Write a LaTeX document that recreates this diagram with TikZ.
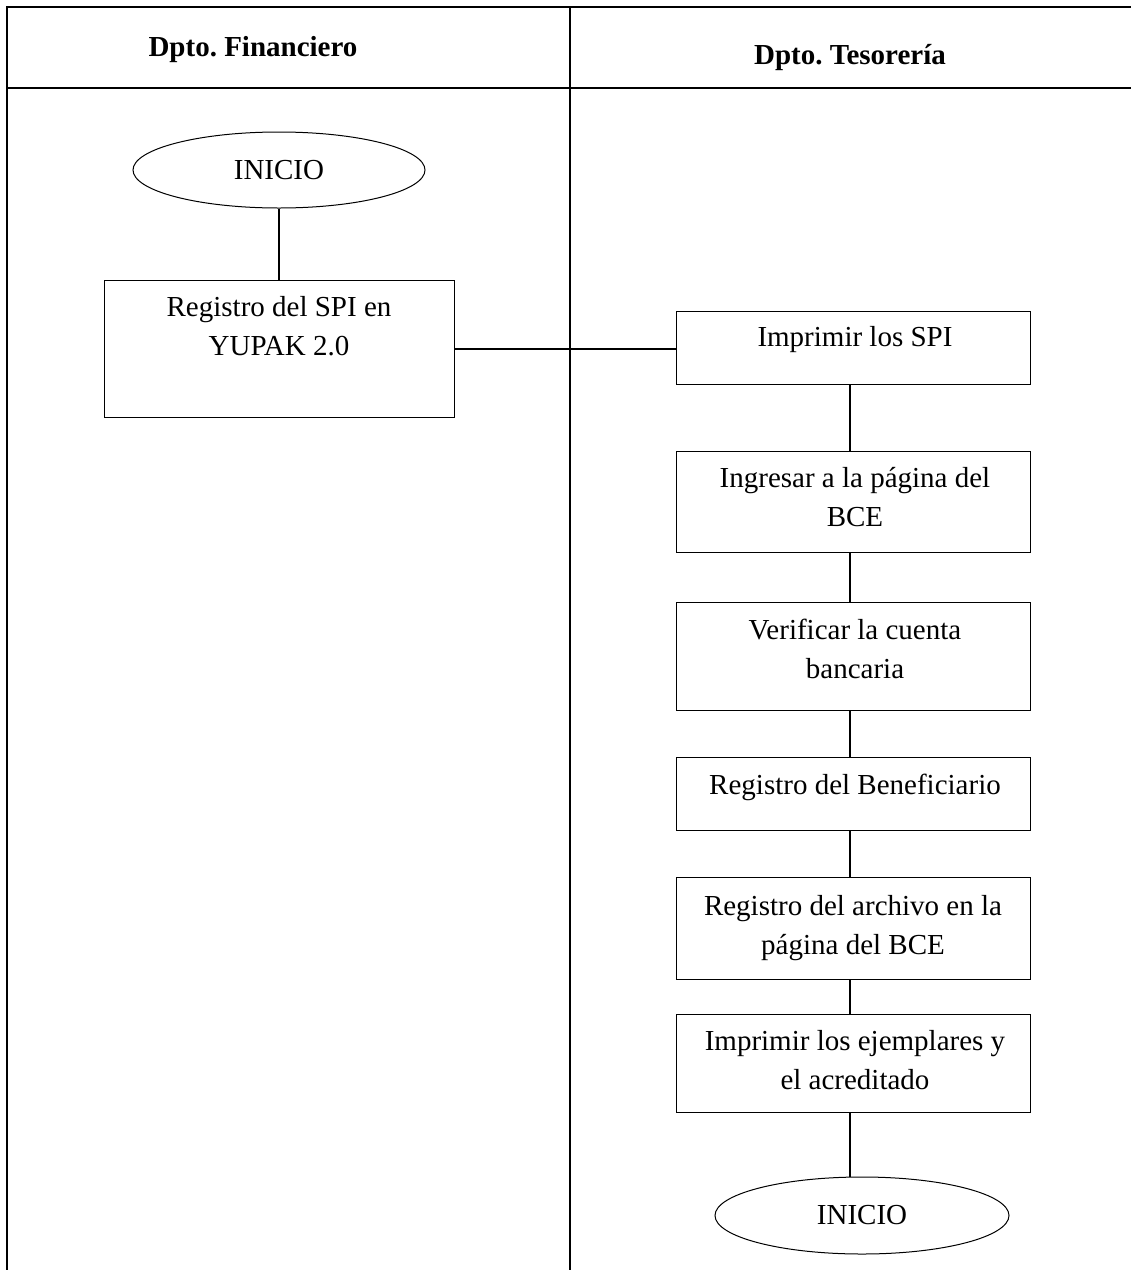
\documentclass[tikz,border=0pt]{standalone}
\usepackage{fontspec}
\setmainfont{Liberation Serif}
\usetikzlibrary{shapes.geometric}
\frenchspacing
\begin{document}
\begin{tikzpicture}[x=0.5pt,y=-0.5pt,
  tbl/.style={line width=1pt},
  conn/.style={line width=1pt},
  boxnode/.style={draw,line width=0.5pt,rectangle,inner sep=0pt},
  txt/.style={align=center,font=\fontsize{14.5}{19.5}\selectfont,inner sep=0pt},
  hdr/.style={font=\fontsize{14.5}{17}\selectfont\bfseries,inner sep=0pt},
  term/.style={draw,ellipse,line width=0.5pt,inner sep=0pt,font=\fontsize{14.5}{17}\selectfont}]
\useasboundingbox (0,0) rectangle (1131,1270);
% table
\draw[tbl] (7,1270) -- (7,7) -- (1131,7);
\draw[tbl] (7,88) -- (1131,88);
\draw[tbl] (570,7) -- (570,1270);
% headers
\node[hdr] (h1) at (253,50) {Dpto. Financiero};
\node[hdr] (h2) at (850,58) {Dpto. Tesorería};
% left column
\node[term,minimum width=146pt,minimum height=38pt] (e1) at (279,170) {INICIO};
\node[boxnode,minimum width=175pt,minimum height=68.5pt] (b1) at (279,348.5) {};
\node[txt] (t1) at (279,326) {Registro del SPI en\\YUPAK 2.0};
% right column
\node[boxnode,minimum width=177pt,minimum height=36.5pt] (b2) at (853,347.5) {};
\node[txt] (t2) at (855,340) {Imprimir los SPI};
\node[boxnode,minimum width=177pt,minimum height=50.5pt] (b3) at (853,501.5) {};
\node[txt] (t3) at (855,497) {Ingresar a la página del\\BCE};
\node[boxnode,minimum width=177pt,minimum height=54pt] (b4) at (853,656) {};
\node[txt] (t4) at (855,649) {Verificar la cuenta\\bancaria};
\node[boxnode,minimum width=177pt,minimum height=36.5pt] (b5) at (853,793.5) {};
\node[txt] (t5) at (855,787) {Registro del Beneficiario};
\node[boxnode,minimum width=177pt,minimum height=51pt] (b6) at (853,928) {};
\node[txt] (t6) at (853,928) {Registro del archivo en la\\página del BCE};
\node[boxnode,minimum width=177pt,minimum height=49pt] (b7) at (853,1063) {};
\node[txt] (t7) at (855,1060) {Imprimir los ejemplares y\\el acreditado};
\node[term,minimum width=147pt,minimum height=38.5pt] (e2) at (862,1215.5) {INICIO};
% connectors
\draw[conn] (e1.south) -- (b1.north);
\draw[conn] (b1.east) -- (b1.east -| b2.west);
\draw[conn] ([xshift=-1.5pt]b2.south) -- ([xshift=-1.5pt]b3.north);
\draw[conn] ([xshift=-1.5pt]b3.south) -- ([xshift=-1.5pt]b4.north);
\draw[conn] ([xshift=-1.5pt]b4.south) -- ([xshift=-1.5pt]b5.north);
\draw[conn] ([xshift=-1.5pt]b5.south) -- ([xshift=-1.5pt]b6.north);
\draw[conn] ([xshift=-1.5pt]b6.south) -- ([xshift=-1.5pt]b7.north);
\draw[conn] ([xshift=-1.5pt]b7.south) -- ([xshift=-1.5pt]b7.south |- e2.north);
\end{tikzpicture}
\end{document}
